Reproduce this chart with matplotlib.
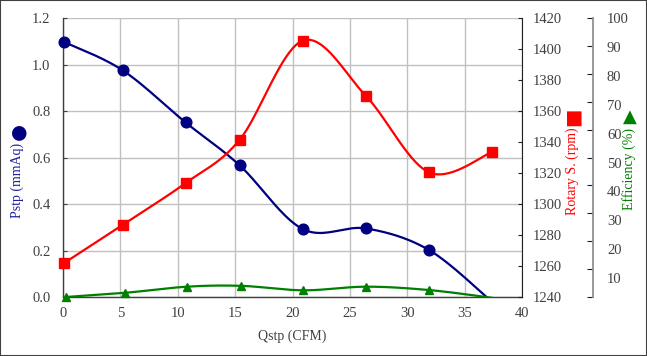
"""
Fan performance curve: static pressure, rotary speed and efficiency vs flow
"""

import numpy as np
import matplotlib
matplotlib.use("Agg")
import matplotlib.pyplot as plt
from matplotlib.patches import Rectangle

# data
q_main = [0.05, 5.2, 10.68, 15.4, 20.9, 26.4, 31.9, 37.37]
pstp = [1.098, 0.975, 0.751, 0.566, 0.292, 0.295, 0.202, -0.02]
rpm = [1261.7, 1286.6, 1313.5, 1341.5, 1405.4, 1369.7, 1320.4, 1333.4]
q_eff = [0.25, 5.4, 10.8, 15.55, 20.93, 26.4, 31.9, 37.4]
eff = [0.0, 1.5, 3.7, 4.0, 2.4, 3.7, 2.5, -0.3]

x_ticks = [0, 5, 10, 15, 20, 25, 30, 35, 40]
p_ticks = [0.0, 0.2, 0.4, 0.6, 0.8, 1.0, 1.2]
rpm_ticks = [1240, 1260, 1280, 1300, 1320, 1340, 1360, 1380, 1400, 1420]
eff_ticks = [0, 10, 20, 30, 40, 50, 60, 70, 80, 90, 100]
eff_labels = [10, 20, 30, 40, 50, 60, 70, 80, 90, 100]

NAVY = '#000080'
RED = '#ff0000'
GREEN = '#008000'
TICK_C = '#404040'
FONT = ['Liberation Serif', 'DejaVu Sans']

plt.rcParams['font.family'] = FONT


def smooth(xs, ys, n=40):
    """Excel-like smoothed line (Catmull-Rom through the points as Bezier)"""
    p = np.column_stack([xs, ys]).astype(float)
    ext = np.vstack([p[0], p, p[-1]])
    t = np.linspace(0, 1, n)[:, None]
    out = []
    for i in range(len(p) - 1):
        p0, p1, p2, p3 = ext[i], ext[i + 1], ext[i + 2], ext[i + 3]
        c1 = p1 + (p2 - p0) / 6
        c2 = p2 - (p3 - p1) / 6
        seg = (1 - t) ** 3 * p1 + 3 * (1 - t) ** 2 * t * c1 + 3 * (1 - t) * t ** 2 * c2 + t ** 3 * p2
        out.append(seg if i == 0 else seg[1:])
    s = np.vstack(out)
    return s[:, 0], s[:, 1]


def draw_series(axis, xs, ys, color, marker, ms, ymin):
    sx, sy = smooth(xs, ys)
    axis.plot(sx, sy, color=color, lw=1.6, zorder=3)
    xs = np.asarray(xs)
    ys = np.asarray(ys)
    keep = ys >= ymin
    axis.plot(xs[keep], ys[keep], ls='none', marker=marker, ms=ms,
              color=color, mec=color, clip_on=False, zorder=4)


fig = plt.figure(figsize=(6.47, 3.56), dpi=100)
ax = fig.add_axes([0.0974, 0.1657, 0.7094, 0.7837])

# left axis: pressure
ax.set_xlim(0, 40)
ax.set_ylim(0, 1.2)
ax.set_xticks(x_ticks)
ax.set_yticks(p_ticks)
ax.set_yticklabels([f'{v:.1f}' for v in p_ticks])
ax.grid(True, color='#c0c0c0', lw=1.0)
ax.set_axisbelow(True)
ax.tick_params(axis='y', direction='in', length=3, pad=9, labelsize=10.5,
               labelcolor=TICK_C, color='#404040')
ax.tick_params(axis='x', direction='in', length=0, pad=7, labelsize=10.5,
               labelcolor=TICK_C)
ax.spines['top'].set_visible(False)
ax.spines['right'].set_visible(False)
for s in ['left', 'bottom']:
    ax.spines[s].set_color('#404040')
    ax.spines[s].set_linewidth(1.0)
ax.set_xlabel('Qstp (CFM)', fontsize=10, color=TICK_C, labelpad=7)

# right axis: rotary speed
ax2 = ax.twinx()
ax2.set_ylim(1240, 1420)
ax2.set_yticks(rpm_ticks)
ax2.tick_params(axis='y', direction='in', length=3, pad=8, labelsize=10.5,
                labelcolor=TICK_C, color='#202020')
for s in ['top', 'left', 'bottom']:
    ax2.spines[s].set_visible(False)
ax2.spines['right'].set_color('#202020')

# second right axis: efficiency (tick marks)
ax3 = ax.twinx()
ax3.spines['right'].set_position(('axes', 1.1547))
ax3.set_ylim(0, 100)
ax3.set_yticks(eff_ticks)
ax3.set_yticklabels([])
ax3.tick_params(axis='y', direction='in', length=4, color='#202020')
for s in ['top', 'left', 'bottom']:
    ax3.spines[s].set_visible(False)
ax3.spines['right'].set_color('#909090')
ax3.spines['right'].set_linewidth(1.3)

# efficiency labels sit on a slightly different scale in the original
ax4 = ax.twinx()
ax4.spines['right'].set_position(('axes', 1.1547))
ax4.set_ylim(3.5, 99.6)
ax4.set_yticks(eff_labels)
ax4.tick_params(axis='y', length=0, pad=10, labelsize=10.5, labelcolor=TICK_C)
for s in ax4.spines.values():
    s.set_visible(False)

draw_series(ax, q_main, pstp, NAVY, 'o', 7.7, 0)
draw_series(ax2, q_main, rpm, RED, 's', 7.4, 1240)
draw_series(ax3, q_eff, eff, GREEN, '^', 6.2, 0)

# axis titles with their legend glyphs
fig.text(17 / 647, 1 - 218 / 356, 'Pstp (mmAq)', rotation=90, ha='center',
         va='bottom', fontsize=10, color='#1f1f9f')
fig.text(18 / 647, 1 - 132 / 356, '\u25cf', rotation=90, ha='center',
         va='center', fontsize=14, color=NAVY, family=['DejaVu Sans'])
fig.text(572 / 647, 1 - 215 / 356, 'Rotary S. (rpm)', rotation=90,
         ha='center', va='bottom', fontsize=10, color=RED)
fig.text(572 / 647, 1 - 117 / 356, '\u25a0', rotation=90, ha='center',
         va='center', fontsize=14, color=RED, family=['DejaVu Sans'])
fig.text(629 / 647, 1 - 210 / 356, 'Efficiency (%)', rotation=90,
         ha='center', va='bottom', fontsize=10, color=GREEN)
fig.text(630 / 647, 1 - 117 / 356, '\u25b2', rotation=0, ha='center',
         va='center', fontsize=13, color=GREEN, family=['DejaVu Sans'])

# outer frame
fig.patches.append(Rectangle((0, 0), 1, 1, transform=fig.transFigure,
                             fill=False, edgecolor='#404040', lw=1.5))

fig.savefig('out.png', dpi=100)
